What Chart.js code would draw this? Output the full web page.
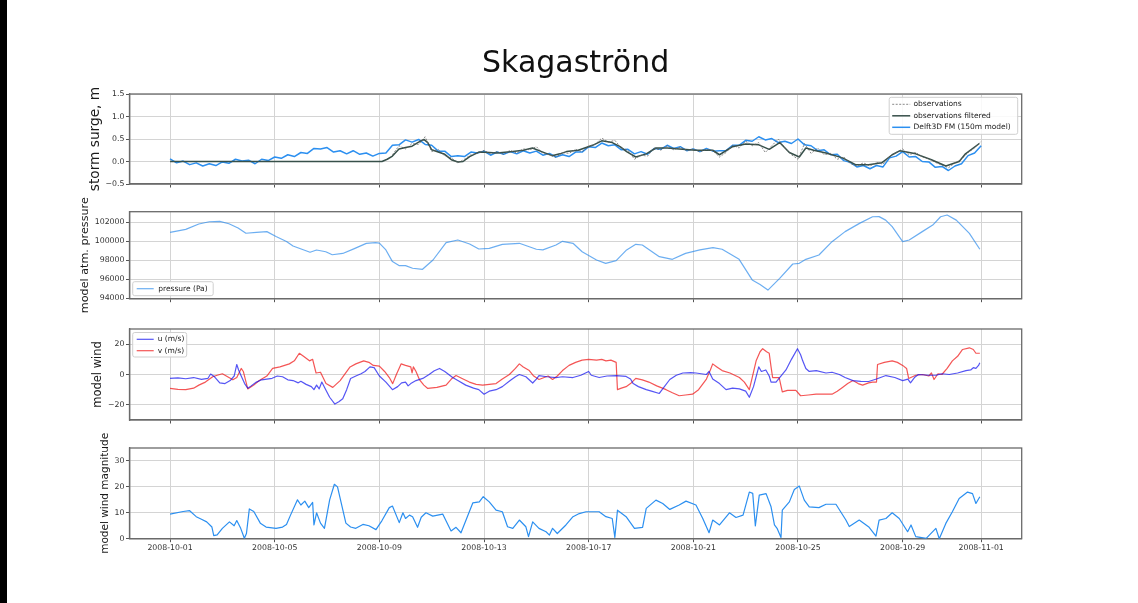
<!DOCTYPE html>
<html><head><meta charset="utf-8">
<script src="https://cdn.jsdelivr.net/npm/chart.js@4.4.0/dist/chart.umd.min.js"></script>
<style>
html,body{margin:0;padding:0;background:#fff;width:1138px;height:603px;overflow:hidden;}
#wrap{position:relative;width:1138px;height:603px;}
canvas{position:absolute;left:0;}
#lb{position:absolute;left:0;top:0;width:7px;height:603px;background:#000;}
</style></head><body><div id="wrap">
<div id="lb"></div>
<canvas id="c1" width="1138" height="200" style="top:0px"></canvas>
<canvas id="c2" width="1138" height="130" style="top:190px"></canvas>
<canvas id="c3" width="1138" height="130" style="top:310px"></canvas>
<canvas id="c4" width="1138" height="150" style="top:425px"></canvas>
</div>
<script>
// ---------- DATA (x = days since 2008-10-01) ----------
const titleText = 'Skagaströnd';
const tickDays = [0, 4, 8, 12, 16, 20, 24, 28, 31];
const dateLabels = ['2008-10-01','2008-10-05','2008-10-09','2008-10-13','2008-10-17','2008-10-21','2008-10-25','2008-10-29','2008-11-01'];

const surgeTicks = [-0.5, 0, 0.5, 1, 1.5];
const surgeTickLabels = ['\u22120.5','0.0','0.5','1.0','1.5'];
const pressureTicks = [94000, 96000, 98000, 100000, 102000];
const pressureTickLabels = ['94000','96000','98000','100000','102000'];
const windTicks = [-20, 0, 20];
const windTickLabels = ['\u221220','0','20'];
const magTicks = [0, 10, 20, 30];
const magTickLabels = ['0','10','20','30'];

const quarterDays = [0,0.25,0.5,0.75,1,1.25,1.5,1.75,2,2.25,2.5,2.75,3,3.25,3.5,3.75,4,4.25,4.5,4.75,5,5.25,5.5,5.75,6,6.25,6.5,6.75,7,7.25,7.5,7.75,8,8.25,8.5,8.75,9,9.25,9.5,9.75,10,10.25,10.5,10.75,11,11.25,11.5,11.75,12,12.25,12.5,12.75,13,13.25,13.5,13.75,14,14.25,14.5,14.75,15,15.25,15.5,15.75,16,16.25,16.5,16.75,17,17.25,17.5,17.75,18,18.25,18.5,18.75,19,19.25,19.5,19.75,20,20.25,20.5,20.75,21,21.25,21.5,21.75,22,22.25,22.5,22.75,23,23.25,23.5,23.75,24,24.25,24.5,24.75,25,25.25,25.5,25.75,26,26.25,26.5,26.75,27,27.25,27.5,27.75,28,28.25,28.5,28.75,29,29.25,29.5,29.75,30,30.25,30.5,30.75,31];

// Delft3D FM model surge (m), every 6 h (tidal zigzag visible)
const surgeModel = [0.06,-0.03,0.01,-0.07,-0.03,-0.10,-0.05,-0.09,-0.01,-0.04,0.05,0.01,0.03,-0.05,0.05,0.02,0.10,0.07,0.15,0.11,0.20,0.18,0.29,0.28,0.31,0.21,0.24,0.17,0.24,0.16,0.19,0.12,0.18,0.19,0.36,0.37,0.48,0.43,0.49,0.38,0.36,0.23,0.23,0.11,0.13,0.11,0.21,0.19,0.23,0.14,0.21,0.16,0.22,0.17,0.24,0.19,0.23,0.14,0.18,0.10,0.15,0.11,0.21,0.21,0.33,0.31,0.41,0.35,0.37,0.26,0.27,0.17,0.22,0.16,0.29,0.27,0.36,0.29,0.33,0.24,0.28,0.22,0.29,0.23,0.24,0.24,0.36,0.36,0.47,0.45,0.55,0.48,0.51,0.42,0.45,0.40,0.50,0.37,0.35,0.24,0.26,0.15,0.16,0.02,-0.02,-0.12,-0.09,-0.16,-0.09,-0.12,0.08,0.12,0.22,0.10,0.11,0.00,-0.01,-0.13,-0.11,-0.20,-0.10,-0.05,0.13,0.19,0.35];

// observations (m), every 6 h from 2008-10-09 12:00
const obsDays = quarterDays.slice(34);
const surgeObs = [0.15,0.35,0.28,0.40,0.38,0.55,0.22,0.27,0.12,0.08,-0.03,0.05,0.15,0.18,0.25,0.17,0.22,0.16,0.25,0.19,0.28,0.26,0.33,0.18,0.15,0.09,0.20,0.18,0.27,0.22,0.34,0.38,0.52,0.43,0.47,0.30,0.25,0.05,0.14,0.12,0.30,0.25,0.35,0.26,0.32,0.24,0.28,0.21,0.27,0.24,0.10,0.20,0.36,0.30,0.45,0.35,0.42,0.20,0.35,0.50,0.30,0.15,0.05,0.40,0.18,0.30,0.15,0.18,0.05,0.10,-0.05,-0.10,-0.03,-0.10,-0.02,-0.06,0.12,0.20,0.28,0.15,0.20,0.10,0.06,-0.02,-0.08,-0.14,-0.03,0.05,0.20,0.30,0.45];

// observations filtered (m)
const filtDays = [0,8.1,8.3,8.5,8.75,9,9.25,9.5,9.7,9.85,10,10.25,10.5,10.75,11,11.2,11.45,11.8,12.2,12.5,13.1,13.5,13.85,14.2,14.6,14.9,15.15,15.6,16.15,16.5,16.9,17.2,17.45,17.8,18.2,18.57,19,19.46,20.1,20.74,21,21.5,22,22.5,22.9,23.3,23.67,24.05,24.3,24.6,25.07,25.7,26.2,26.7,27.2,27.6,27.9,28.5,29.1,29.65,30.16,30.4,30.93];
const surgeFilt = [0,0,0.05,0.12,0.28,0.31,0.34,0.43,0.49,0.42,0.26,0.21,0.16,0.04,-0.01,0,0.11,0.21,0.2,0.19,0.22,0.25,0.3,0.22,0.13,0.17,0.22,0.25,0.36,0.46,0.42,0.33,0.22,0.1,0.17,0.3,0.3,0.28,0.25,0.25,0.15,0.33,0.39,0.37,0.27,0.42,0.2,0.1,0.3,0.25,0.19,0.08,-0.07,-0.07,-0.03,0.15,0.24,0.17,0.04,-0.1,0,0.17,0.4];

// model atmospheric pressure (Pa)
const pressDays = [0,0.6,1.1,1.5,1.9,2.25,2.6,2.9,3.3,3.7,4.05,4.45,4.7,5.35,5.6,5.95,6.2,6.6,7,7.5,7.85,8,8.25,8.5,8.75,9,9.27,9.65,10.05,10.55,11,11.45,11.8,12.2,12.7,13.35,14,14.25,14.75,15,15.4,15.75,16.3,16.65,17.05,17.45,17.8,18.05,18.7,19.2,19.7,20.25,20.75,21.1,21.75,22.25,22.55,22.85,23.3,23.8,24.05,24.3,24.8,25.3,25.8,26.35,26.85,27.1,27.35,27.6,28,28.25,28.75,29.15,29.45,29.7,30.05,30.55,30.95];
const pressure = [100950,101260,101820,102060,102100,101850,101400,100850,100950,101020,100500,99980,99500,98850,99080,98900,98580,98720,99180,99780,99860,99800,99090,97860,97440,97440,97160,97050,98030,99860,100140,99720,99190,99260,99680,99790,99160,99090,99610,100000,99790,98900,98030,97680,97960,99090,99680,99610,98380,98100,98730,99090,99330,99160,98100,95930,95450,94860,96100,97610,97680,98100,98560,99960,101020,101890,102590,102600,102230,101540,99960,100140,101020,101710,102590,102770,102230,100840,99160];

// model wind components (m/s)
const uDays = [0,0.3,0.6,0.9,1.2,1.45,1.55,1.7,1.9,2.1,2.3,2.45,2.55,2.62,2.72,2.85,2.97,3.1,3.3,3.5,3.7,3.9,4.1,4.3,4.5,4.7,4.9,5,5.2,5.4,5.5,5.6,5.7,5.8,5.95,6.1,6.3,6.45,6.6,6.75,6.9,7.1,7.3,7.45,7.64,7.8,8,8.25,8.5,8.7,8.85,9,9.1,9.2,9.4,9.66,9.9,10.1,10.3,10.5,10.8,11,11.3,11.6,11.8,12,12.2,12.46,12.7,13,13.2,13.35,13.6,13.86,14,14.1,14.4,14.75,15,15.4,15.7,16,16.1,16.4,16.7,17.05,17.43,17.6,17.7,17.9,18.2,18.4,18.7,18.85,19.1,19.35,19.6,19.9,20.1,20.3,20.5,20.6,20.74,21,21.25,21.5,21.76,22,22.14,22.3,22.5,22.6,22.77,22.9,22.97,23.16,23.3,23.54,23.75,23.98,24.1,24.18,24.3,24.43,24.7,25.07,25.3,25.58,25.8,26.1,26.4,26.7,27,27.36,27.7,28,28.2,28.3,28.45,28.6,29,29.27,29.5,29.78,30.1,30.42,30.6,30.7,30.8,30.9,30.95];
const windU = [-2.6,-2.2,-2.8,-2,-3.2,-2.5,0.3,-1.5,-5.5,-6,-4,-1,6.6,3,-1,-6,-9,-7.5,-5,-3.5,-3,-2.5,-1,-1.5,-3.5,-4,-5.5,-4.5,-6.5,-8,-10,-7,-9.5,-5,-10,-15,-19.5,-18,-16,-10,-2.6,-1,0.5,2,5,4.5,-1,-5,-10,-8,-5.5,-5,-7.5,-6,-4,-2.6,0,2.5,4,2,-2,-4,-7,-9,-10,-13,-11,-10,-8,-4,-1.5,0,-1.5,-5.6,-3,-0.7,-1.5,-2,-1.5,-2,-0.5,2,-0.5,-2,-1,-0.7,-1.3,-3,-6,-8,-10,-11,-12.5,-9,-3.3,-0.5,1,1.2,1,0.5,0,2,-3,-6,-10,-9,-9.5,-11,-15,-8,5,2,3,-1,-5,-5,-2,3,10,17,13,9,4,2,2.5,1,1.5,0,-2,-4,-4.5,-4.6,-3,-0.7,-2,-4,-3,-5.5,-2,0,-0.5,-0.5,0.5,0,1,2.6,3,4.5,4,6,7.7];
const vDays = [0,0.3,0.6,0.9,1.1,1.35,1.63,1.8,2,2.2,2.4,2.55,2.72,2.8,2.97,3.2,3.41,3.7,3.92,4.2,4.56,4.75,4.94,5.1,5.33,5.45,5.58,5.75,5.96,6.22,6.5,6.88,7.1,7.4,7.6,7.77,8,8.2,8.38,8.51,8.65,8.83,9,9.2,9.25,9.3,9.4,9.53,9.7,9.85,10.2,10.55,10.75,10.93,11.2,11.44,11.7,11.95,12.2,12.46,12.7,12.97,13.2,13.35,13.5,13.73,13.9,14.1,14.3,14.45,14.62,14.8,15,15.25,15.5,15.75,16,16.3,16.5,16.66,16.85,17.05,17.1,17.25,17.43,17.6,17.8,18.05,18.3,18.6,18.96,19.2,19.46,19.7,19.97,20.2,20.5,20.65,20.74,20.9,21.1,21.4,21.76,21.95,22.14,22.25,22.4,22.55,22.65,22.8,22.9,22.97,23.03,23.28,23.4,23.6,23.92,24.1,24.4,24.69,25,25.3,25.5,25.7,25.9,26.1,26.3,26.47,26.7,26.85,27,27.04,27.3,27.6,27.8,28,28.15,28.23,28.5,28.76,29,29.1,29.2,29.35,29.5,29.7,29.9,30.1,30.29,30.55,30.7,30.8,30.95];
const windV = [-9.2,-9.8,-10,-9,-7,-5,-1.5,-0.5,0.5,-1.5,-3.5,-2,4,2,-9.5,-7,-4,-1,4,5,7,9,14,12,9,10,1,1.5,-6,-8.5,-4,5,7,9,8,6,5.5,2,-2,-6,0,7,6,5,1,5,2,-3.3,-7,-9.2,-8.5,-7,-3,-0.7,-3,-5,-6.5,-7,-6.5,-6,-3,0,4,7,5,2.6,-1,-3.3,-2,-1,-3.3,-1,2.6,6,8,9.5,10,9.5,10,9,9.5,8,-10,-9,-8,-6,-2.6,-3.5,-5,-7.5,-10,-12,-14,-13.5,-13,-10,-3,3,7,5,2.6,1,-2,-5,-10,-2,9,15,17,15,14,5,-2,-2,-11.5,-10.5,-10.5,-14,-13.5,-13,-13,-13,-11,-8.5,-6,-4,-6,-7,-5.5,-5,-5,6.6,8,9,8,6,4,-2.6,-0.5,0,-1,1,-3.3,0.5,0,4,9,12,16.5,17.6,16.5,14,14];

// model wind magnitude (m/s)
const magDays = [0,0.5,0.75,1,1.2,1.4,1.6,1.67,1.8,2,2.27,2.45,2.55,2.7,2.84,2.92,3.03,3.2,3.45,3.67,4.05,4.3,4.45,4.6,4.87,5,5.15,5.3,5.45,5.5,5.6,5.75,5.9,6.1,6.28,6.4,6.72,6.9,7.1,7.37,7.6,7.87,8.1,8.38,8.5,8.76,8.9,9,9.15,9.27,9.46,9.6,9.78,10.04,10.42,10.74,10.93,11.12,11.57,11.82,11.97,12.2,12.46,12.7,12.9,13.1,13.35,13.6,13.7,13.86,14.1,14.37,14.5,14.62,14.8,15.13,15.4,15.64,15.9,16.4,16.66,16.9,17,17.1,17.43,17.75,18.06,18.2,18.57,18.83,19.1,19.46,19.72,20.1,20.36,20.6,20.74,21,21.38,21.63,21.9,22.14,22.27,22.37,22.52,22.78,22.97,23.1,23.2,23.35,23.4,23.67,23.86,24.05,24.24,24.43,24.8,25.07,25.45,25.83,25.96,26.34,26.72,26.98,27.1,27.36,27.6,27.87,28.19,28.32,28.5,28.9,29.27,29.4,29.65,29.9,30.16,30.48,30.67,30.8,30.95];
const windMag = [9.5,10.5,10.8,8.5,7.5,6.5,4.5,1.2,1.5,4,6.5,5,7,4,0.2,2,11.5,10.5,6,4.5,4,4.5,5.5,9,15,13,14.5,12,14,5.3,10,6,4,15,21,20,6,4.5,4,5.5,5,3.5,7,12,12.6,6.2,10,7.8,9.1,8.5,4.4,8.3,10,8.7,9.5,3,4.4,2.3,13.8,14.2,16.2,14.2,11,10.4,4.6,4,7.2,4.6,0.8,6.5,4,2.7,1.4,4,2,5.3,8.5,9.7,10.4,10.4,8.5,7.8,0.5,11,8.5,4,4.4,11.7,14.9,13.6,11.3,13,14.5,13,7.8,2.3,7.2,5.3,10,8.2,9.1,18,17.5,4.9,16.8,17.4,12.3,5.3,4,0.5,11,14.2,19,20.3,14.9,12.3,12,13.3,13.3,7.2,4.7,7.2,4.4,1,7.2,7.8,10,7.8,2.7,5.3,0.8,0.1,4,0,5.9,10.4,15.5,18,17.4,13.6,16.2];

// ---------- STYLE / LAYOUT ----------
const FONT = 'DejaVu Sans';
Chart.defaults.font.family = FONT;
const X_MIN = -1.55, X_MAX = 32.55;
const PLOT_LEFT = 129.5, PLOT_RIGHT_PAD = 1138 - 1021.7;
const GRID = '#d4d4d4', SPINE = '#6a6a6a', TICKC = '#555', TXT = '#333';

const pts = (xs, ys) => xs.map((x, i) => ({x, y: ys[i]}));

function xScale(show, h) {
  return {
    type: 'linear', min: X_MIN, max: X_MAX,
    afterBuildTicks: s => { s.ticks = tickDays.map(v => ({value: v})); },
    afterFit: s => { s.height = h; },
    ticks: { display: show, autoSkip: false, maxRotation: 0, minRotation: 0, padding: 1.1,
      font: {family: FONT, size: 7.8}, color: TXT, callback: (v, i) => dateLabels[i] },
    grid: { color: GRID, lineWidth: 1, tickLength: 3.5, tickColor: TICKC, tickWidth: 1 },
    border: { color: SPINE, width: 1.3 }
  };
}
function yScale(min, max, vals, labels, title, tsize, tcx) {
  return {
    type: 'linear', min, max,
    afterBuildTicks: s => { s.ticks = vals.map(v => ({value: v})); },
    afterFit: s => { s.width = PLOT_LEFT; },
    ticks: { font: {family: FONT, size: 7.8}, color: TXT, padding: 1.5, callback: (v, i) => labels[i] },
    grid: { color: GRID, lineWidth: 1, tickLength: 3.5, tickColor: TICKC, tickWidth: 1 },
    border: { color: SPINE, width: 1.3 },
    title: { display: true, text: title, color: '#1a1a1a', font: {family: FONT, size: tsize},
      padding: {top: tcx - tsize * 0.6, bottom: 0} }
  };
}

const frame = {
  id: 'frame',
  beforeDatasetsDraw(chart) {
    const {ctx, chartArea: a} = chart;
    ctx.save(); ctx.strokeStyle = SPINE; ctx.lineWidth = 1.3;
    ctx.strokeRect(a.left, a.top, a.right - a.left, a.bottom - a.top);
    ctx.restore();
  }
};
const mplLegend = {
  id: 'mplLegend',
  afterDatasetsDraw(chart, args, o) {
    if (!o || !o.w) return;
    const {ctx, chartArea: a} = chart;
    const fx = o.right ? a.right - o.dx - o.w : a.left + o.dx;
    const fy = o.bottom ? a.bottom - o.dy - o.h : a.top + o.dy;
    ctx.save();
    ctx.beginPath(); ctx.roundRect(fx, fy, o.w, o.h, 2);
    ctx.fillStyle = 'rgba(255,255,255,0.85)'; ctx.fill();
    ctx.strokeStyle = '#cfcfcf'; ctx.lineWidth = 1; ctx.stroke();
    ctx.font = o.fs + 'px "' + FONT + '"'; ctx.textBaseline = 'middle'; ctx.textAlign = 'left';
    chart.data.datasets.forEach((ds, i) => {
      const y = fy + o.rows[i];
      ctx.beginPath(); ctx.setLineDash(ds.borderDash || []);
      ctx.strokeStyle = ds.borderColor; ctx.lineWidth = ds.borderWidth;
      ctx.moveTo(fx + o.l0, y); ctx.lineTo(fx + o.l1, y); ctx.stroke();
      ctx.setLineDash([]);
      ctx.fillStyle = '#222'; ctx.fillText(ds.label, fx + o.tx, y);
    });
    ctx.restore();
  }
};

function make(id, datasets, y, xshow, padTop, xh, extraPlugins, legend) {
  return new Chart(document.getElementById(id), {
    type: 'line',
    data: { datasets },
    options: {
      responsive: false, animation: false, events: [],
      parsing: true, normalized: true,
      elements: { point: { radius: 0 }, line: { tension: 0, borderJoinStyle: 'round' } },
      layout: { padding: { left: 0, right: PLOT_RIGHT_PAD, top: padTop, bottom: 0 } },
      scales: { x: xScale(xshow, xh), y },
      plugins: Object.assign({ legend: { display: false }, tooltip: { enabled: false }, mplLegend: legend }, extraPlugins)
    },
    plugins: [frame, mplLegend]
  });
}

// Panel 1 : storm surge
make('c1', [
  { label: 'observations', data: pts(obsDays, surgeObs), borderColor: 'rgba(100,100,100,0.85)', borderWidth: 0.9, borderDash: [2, 1.5] },
  { label: 'observations filtered', data: pts(filtDays, surgeFilt), borderColor: '#37504a', borderWidth: 1.5 },
  { label: 'Delft3D FM (150m model)', data: pts(quarterDays, surgeModel), borderColor: '#2b8ff0', borderWidth: 1.5 }
], yScale(-0.5, 1.5, surgeTicks, surgeTickLabels, 'storm surge, m', 13.7, 95.6), false, 0, 16,
  { title: { display: true, text: titleText, fullSize: false, color: '#111', font: {family: FONT, size: 30, weight: 'normal'}, padding: {top: 46, bottom: 12} } },
  { right: true, dx: 4, dy: 3.3, w: 128.5, h: 37, rows: [7, 18.5, 30], l0: 3, l1: 21, tx: 24.3, fs: 7.5 });

// Panel 2 : pressure
make('c2', [
  { label: 'pressure (Pa)', data: pts(pressDays, pressure), borderColor: 'rgba(45,140,235,0.7)', borderWidth: 1.2 }
], yScale(93950, 103120, pressureTicks, pressureTickLabels, 'model atm. pressure', 11.2, 85), false, 21.7, 21.3, {},
  { dx: 3.2, bottom: true, dy: 3, w: 80.5, h: 14, rows: [7], l0: 4, l1: 21, tx: 25.5, fs: 7.5 });

// Panel 3 : wind components
make('c3', [
  { label: 'u (m/s)', data: pts(uDays, windU), borderColor: 'rgba(20,20,240,0.72)', borderWidth: 1.2 },
  { label: 'v (m/s)', data: pts(vDays, windV), borderColor: 'rgba(240,20,20,0.72)', borderWidth: 1.2 }
], yScale(-30, 30, windTicks, windTickLabels, 'model wind', 11.5, 98.5), false, 19, 20, {},
  { dx: 3.2, dy: 3.5, w: 54, h: 24.5, rows: [6.8, 18.2], l0: 4, l1: 21, tx: 25, fs: 7.5 });

// Panel 4 : wind magnitude
make('c4', [
  { label: 'wind magnitude', data: pts(magDays, windMag), borderColor: '#2b8ff0', borderWidth: 1.2 }
], yScale(0, 35, magTicks, magTickLabels, 'model wind magnitude', 10.5, 105.5), true, 23, 36.3, {}, {});
</script>
</body></html>
